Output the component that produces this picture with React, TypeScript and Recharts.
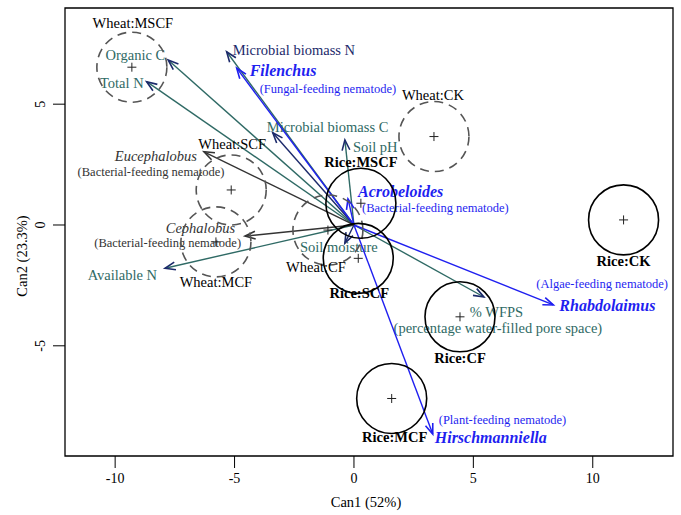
import React from "react";
import { ScatterChart, Scatter, XAxis, YAxis, ReferenceLine, ReferenceArea } from "recharts";

// treatment centroids (Can1, Can2)
const treatments = ["Wheat:MSCF", "Wheat:CK", "Wheat:SCF", "Wheat:MCF", "Wheat:CF", "Rice:MSCF", "Rice:SCF", "Rice:CF", "Rice:MCF", "Rice:CK"];
const treatmentCan1 = [-9.3, 3.35, -5.14, -5.78, -1.09, 0.29, 0.18, 4.44, 1.58, 11.29];
const treatmentCan2 = [6.53, 3.66, 1.45, -0.7, -0.21, 0.9, -1.38, -3.8, -7.18, 0.21];

// soil variable vectors
const soilVars = ["Organic C", "Total N", "Microbial biomass N", "Microbial biomass C", "Soil pH", "Soil moisture", "Available N", "% WFPS"];
const soilCan1 = [-7.78, -8.68, -5.33, -3.4, -0.38, -0.38, -7.91, 5.44];
const soilCan2 = [6.83, 5.93, 7.17, 3.82, 3.52, -0.75, -1.79, -2.98];

// nematode genus vectors
const nematodes = ["Filenchus", "Acrobeloides", "Rhabdolaimus", "Hirschmanniella", "Eucephalobus", "Cephalobus"];
const nematodeGroups = ["(Fungal-feeding nematode)", "(Bacterial-feeding nematode)", "(Algae-feeding nematode)", "(Plant-feeding nematode)", "(Bacterial-feeding nematode)", "(Bacterial-feeding nematode)"];
const nematodeCan1 = [-4.91, -0.25, 8.35, 3.3, -6.28, -4.56];
const nematodeCan2 = [6.49, 1.08, -3.31, -8.65, 3.03, -0.46];

const xTicks = [-10, -5, 0, 5, 10];
const yTicks = [-5, 0, 5];

const X_DOMAIN: [number, number] = [-12.1, 13.36];
const Y_DOMAIN: [number, number] = [-9.56, 8.98];

const FONT = '"Liberation Serif", "Times New Roman", serif';
const TEAL = "#2f6a65";
const NAVY = "#1c2a6b";
const BLUE = "#1f1ff0";
const GREY = "#333333";

const centroidData = treatments.map((name, i) => ({ name, x: treatmentCan1[i], y: treatmentCan2[i] }));

// label placement (pixels, relative to the centroid / arrow tip)
const centroidLabelPos: Record<string, [number, number]> = {
    "Wheat:MSCF": [1, -39],
    "Wheat:CK": [-1, -37],
    "Wheat:SCF": [1, -41],
    "Wheat:MCF": [0, 45],
    "Wheat:CF": [-12, 42],
    "Rice:MSCF": [0, -36],
    "Rice:SCF": [1, 40],
    "Rice:CF": [0, 46],
    "Rice:MCF": [3, 44],
    "Rice:CK": [0, 46],
}

type Lbl = { text: string; dx: number; dy: number; anchor: "start" | "middle" | "end"; color: string; size: number; weight?: string; style?: string }

const soilLabels: Record<string, Omit<Lbl, "text">[]> = {
    "Organic C": [{ dx: -3, dy: 0, anchor: "end", color: TEAL, size: 14.5 }],
    "Total N": [{ dx: -3, dy: 6, anchor: "end", color: TEAL, size: 14.5 }],
    "Microbial biomass N": [{ dx: 6, dy: 3, anchor: "start", color: NAVY, size: 14.5 }],
    "Microbial biomass C": [{ dx: -6, dy: -1, anchor: "start", color: TEAL, size: 14.5 }],
    "Soil pH": [{ dx: 8, dy: 12, anchor: "start", color: TEAL, size: 14.5 }],
    "Soil moisture": [{ dx: -6, dy: 9, anchor: "middle", color: TEAL, size: 14.5 }],
    "Available N": [{ dx: -8, dy: 12, anchor: "end", color: TEAL, size: 14.5 }],
    "% WFPS": [
        { dx: -14, dy: 20, anchor: "start", color: TEAL, size: 14.5 },
        { dx: 14, dy: 36, anchor: "middle", color: TEAL, size: 14.5 },
    ],
}

const nematodeLabelPos: Record<string, { name: [number, number, "start" | "middle" | "end"]; group: [number, number, "start" | "middle" | "end"] }> = {
    Filenchus: { name: [13, 8, "start"], group: [23, 25, "start"] },
    Acrobeloides: { name: [10, -2, "start"], group: [14, 13, "start"] },
    Rhabdolaimus: { name: [6, 6, "start"], group: [-17, -17, "start"] },
    Hirschmanniella: { name: [2, 9, "start"], group: [6, -10, "start"] },
    Eucephalobus: { name: [-7, 9, "end"], group: [-53, 24, "middle"] },
    Cephalobus: { name: [-10, -3, "end"], group: [-4, 11, "end"] },
}

function makeArrow(shaft: string, head: string, labels: Lbl[]) {
    return (p: any) => {
        const { x1, y1, x2, y2 } = p
        const a = Math.atan2(y2 - y1, x2 - x1)
        const L = 11
        const w = 0.36
        const hx1 = x2 - L * Math.cos(a - w)
        const hy1 = y2 - L * Math.sin(a - w)
        const hx2 = x2 - L * Math.cos(a + w)
        const hy2 = y2 - L * Math.sin(a + w)
        return (
            <g>
                <line x1={x1} y1={y1} x2={x2} y2={y2} stroke={shaft} strokeWidth={1.4} />
                <polyline points={`${hx1},${hy1} ${x2},${y2} ${hx2},${hy2}`} fill="none" stroke={head} strokeWidth={1.6} />
                {labels.map((l, i) => (
                    <text
                        key={i}
                        x={x2 + l.dx}
                        y={y2 + l.dy}
                        textAnchor={l.anchor}
                        fill={l.color}
                        fontSize={l.size}
                        fontWeight={l.weight || "normal"}
                        fontStyle={l.style || "normal"}
                        fontFamily={FONT}
                    >
                        {l.text}
                    </text>
                ))}
            </g>
        )
    }
}

function Centroid(props: any) {
    const { cx, cy, payload } = props
    const rice = payload.name.startsWith("Rice")
    const [dx, dy] = centroidLabelPos[payload.name] || [0, 40]
    return (
        <g>
            <circle
                cx={cx}
                cy={cy}
                r={35}
                fill="none"
                stroke={rice ? "#000" : "#555"}
                strokeWidth={1.6}
                strokeDasharray={rice ? undefined : "9 6"}
            />
            <line x1={cx - 4.5} y1={cy} x2={cx + 4.5} y2={cy} stroke="#222" strokeWidth={1} />
            <line x1={cx} y1={cy - 4.5} x2={cx} y2={cy + 4.5} stroke="#222" strokeWidth={1} />
            <text
                x={cx + dx}
                y={cy + dy}
                textAnchor="middle"
                fontFamily={FONT}
                fontSize={14.5}
                fontWeight={rice ? "bold" : "normal"}
                fill="#000"
            >
                {payload.name}
            </text>
        </g>
    )
}

function YTick(props: any) {
    const { x, y, payload } = props
    return (
        <text x={x} y={y} transform={`rotate(-90 ${x} ${y})`} textAnchor="middle" fontFamily={FONT} fontSize={14} fill="#000">
            {payload.value}
        </text>
    )
}

export default function App() {
    return (
        <div style={{ position: "absolute", left: 0, top: 0, background: "#fff" }}>
            <ScatterChart width={681} height={515} margin={{ top: 8, right: 8, bottom: 9, left: 5 }}>
                <XAxis
                    type="number"
                    dataKey="x"
                    domain={X_DOMAIN}
                    ticks={xTicks}
                    interval={0}
                    allowDataOverflow
                    height={50}
                    axisLine={false}
                    tickSize={12}
                    tickMargin={5}
                    tickLine={{ stroke: "#000" }}
                    tick={{ fill: "#000", fontSize: 14, fontFamily: FONT }}
                    label={(p: any) => (
                        <text x={366} y={507} textAnchor="middle" fontFamily={FONT} fontSize={14.5} fill="#000">
                            Can1 (52%)
                        </text>
                    )}
                />
                <YAxis
                    type="number"
                    dataKey="y"
                    domain={Y_DOMAIN}
                    ticks={yTicks}
                    interval={0}
                    allowDataOverflow
                    width={60}
                    axisLine={false}
                    tickSize={12}
                    tickMargin={8}
                    tickLine={{ stroke: "#000" }}
                    tick={<YTick />}
                    label={(p: any) => (
                        <text x={27} y={256} transform="rotate(-90 27 256)" textAnchor="middle" fontFamily={FONT} fontSize={14.5} fill="#000">
                            Can2 (23.3%)
                        </text>
                    )}
                />
                <ReferenceArea
                    x1={X_DOMAIN[0]}
                    x2={X_DOMAIN[1]}
                    y1={Y_DOMAIN[0]}
                    y2={Y_DOMAIN[1]}
                    fill="none"
                    fillOpacity={0}
                    stroke="#000"
                    strokeWidth={1.3}
                    ifOverflow="visible"
                />
                <Scatter data={centroidData} isAnimationActive={false} shape={<Centroid />} />
                {soilVars.map((name, i) => {
                    const labels = (soilLabels[name] || []).map((l, k) => ({
                        ...l,
                        text: name === "% WFPS" && k === 1 ? "(percentage water-filled pore space)" : name,
                    }))
                    const shaft = name === "Microbial biomass C" || name === "Soil moisture" ? NAVY : TEAL
                    return (
                        <ReferenceLine
                            key={name}
                            segment={[{ x: 0, y: 0 }, { x: soilCan1[i], y: soilCan2[i] }]}
                            ifOverflow="visible"
                            shape={makeArrow(shaft, NAVY, labels)}
                        />
                    )
                })}
                {nematodes.map((name, i) => {
                    const pos = nematodeLabelPos[name]
                    const blue = i < 4
                    const col = blue ? BLUE : GREY
                    const labels: Lbl[] = [
                        { text: name, dx: pos.name[0], dy: pos.name[1], anchor: pos.name[2], color: col, size: blue ? 16 : 14.5, weight: blue ? "bold" : "normal", style: "italic" },
                        { text: nematodeGroups[i], dx: pos.group[0], dy: pos.group[1], anchor: pos.group[2], color: col, size: 12.5 },
                    ]
                    return (
                        <ReferenceLine
                            key={name}
                            segment={[{ x: 0, y: 0 }, { x: nematodeCan1[i], y: nematodeCan2[i] }]}
                            ifOverflow="visible"
                            shape={makeArrow(col, col, labels)}
                        />
                    )
                })}
            </ScatterChart>
        </div>
    )
}
